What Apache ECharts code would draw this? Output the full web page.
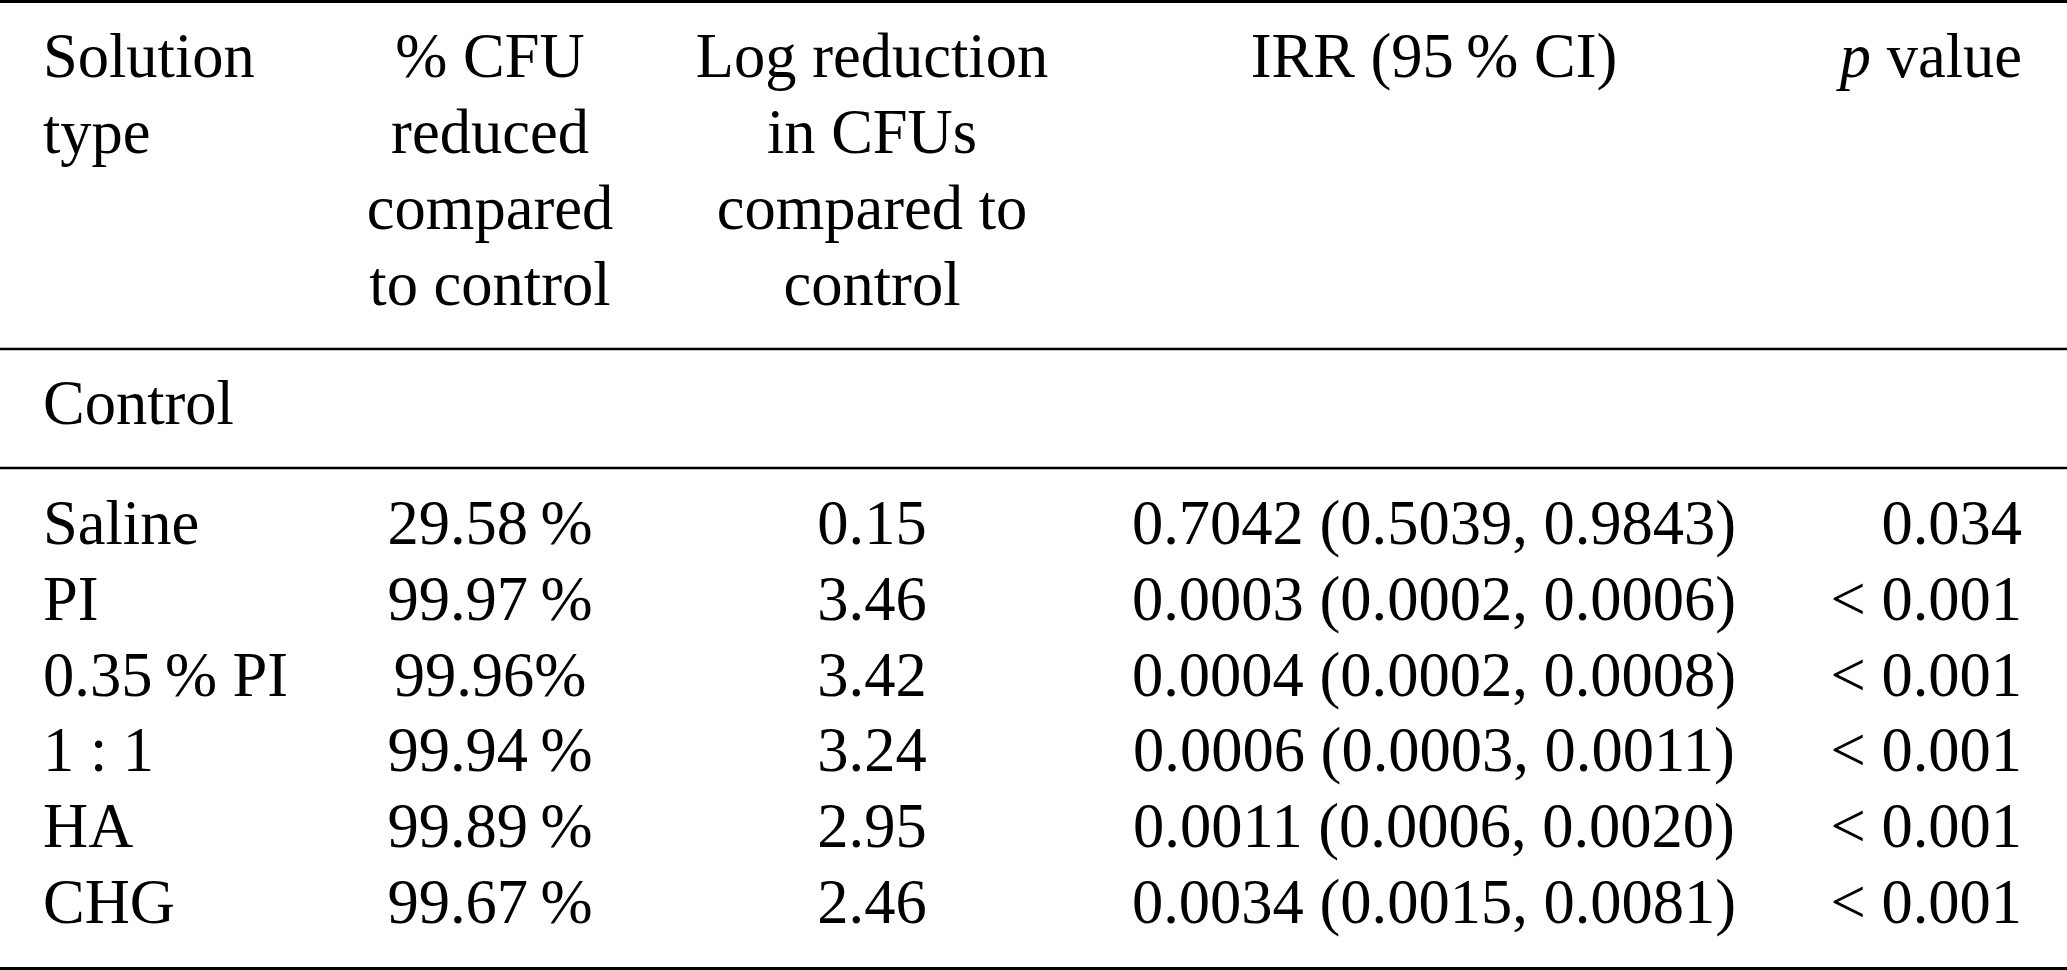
<!DOCTYPE html>
<html><head><meta charset="utf-8">
<script src="https://cdn.jsdelivr.net/npm/echarts@6/dist/echarts.min.js"></script>
<style>html,body{margin:0;padding:0;background:#fff}#c{width:2067px;height:970px}</style>
</head><body><div id="c"></div>
<script>
// ---- table content ----
const headerSolution = ["Solution", "type"];
const headerPct = ["% CFU", "reduced", "compared", "to control"];
const headerLog = ["Log reduction", "in CFUs", "compared to", "control"];
const headerIrr = ["IRR (95\u2009% CI)"];
const headerP = ["{i|p} value"];
const controlLabel = "Control";
const solutions = ["Saline", "PI", "0.35\u2009% PI", "1 : 1", "HA", "CHG"];
const pctReduced = ["29.58\u2009%", "99.97\u2009%", "99.96%", "99.94\u2009%", "99.89\u2009%", "99.67\u2009%"];
const logReduction = ["0.15", "3.46", "3.42", "3.24", "2.95", "2.46"];
const irrCI = ["0.7042 (0.5039, 0.9843)", "0.0003 (0.0002, 0.0006)", "0.0004 (0.0002, 0.0008)",
               "0.0006 (0.0003, 0.0011)", "0.0011 (0.0006, 0.0020)", "0.0034 (0.0015, 0.0081)"];
const pValues = ["0.034", "< 0.001", "< 0.001", "< 0.001", "< 0.001", "< 0.001"];

// ---- layout (axis units = pixels) ----
const W = 2067, H = 970;
const FONT = 62.5;
const colX = [43, 490, 872, 1434, 2022];
const colAlign = ['left', 'center', 'center', 'center', 'right'];
const headerBaselines = [77, 153, 229, 305];
const controlBaseline = 424;
const dataBaselines = [544, 620, 696, 771, 847, 923];
const rules = [{ y: 1.5, w: 3 }, { y: 349, w: 2.6 }, { y: 468, w: 2.6 }, { y: 968.5, w: 3 }];
const MID = 0.263 * FONT;

// ---- build cells: [col, baseline, text] ----
const cells = [];
[headerSolution, headerPct, headerLog, headerIrr, headerP].forEach((lines, c) => {
  lines.forEach((t, k) => cells.push([c, headerBaselines[k], t]));
});
cells.push([0, controlBaseline, controlLabel]);
[solutions, pctReduced, logReduction, irrCI, pValues].forEach((col, c) => {
  col.forEach((t, r) => cells.push([c, dataBaselines[r], t]));
});

const chart = echarts.init(document.getElementById('c'), null, { renderer: 'canvas' });
chart.setOption({
  backgroundColor: '#fff',
  animation: false,
  grid: { left: 0, right: 0, top: 0, bottom: 0 },
  xAxis: { type: 'value', min: 0, max: W, show: false },
  yAxis: { type: 'value', min: 0, max: H, inverse: true, show: false },
  series: [
    {
      type: 'custom',
      data: rules.map(r => [r.y, r.w]),
      renderItem: (params, api) => {
        const a = api.coord([0, api.value(0)]);
        const b = api.coord([W, api.value(0)]);
        return { type: 'line', shape: { x1: a[0], y1: a[1], x2: b[0], y2: b[1] },
                 style: { stroke: '#000', lineWidth: api.value(1) } };
      }
    },
    {
      type: 'custom',
      data: cells.map(d => [colX[d[0]], d[1] - MID, d[0]]),
      renderItem: (params, api) => {
        const d = cells[params.dataIndex];
        const p = api.coord([api.value(0), api.value(1)]);
        return {
          type: 'text',
          x: p[0], y: p[1],
          style: {
            text: d[2],
            fill: '#000',
            fontFamily: 'Liberation Serif',
            fontSize: FONT,
            align: colAlign[d[0]],
            verticalAlign: 'middle',
            rich: { i: { fontStyle: 'italic', fontFamily: 'Liberation Serif', fontSize: FONT, fill: '#000' } }
          }
        };
      }
    }
  ]
});
</script></body></html>
